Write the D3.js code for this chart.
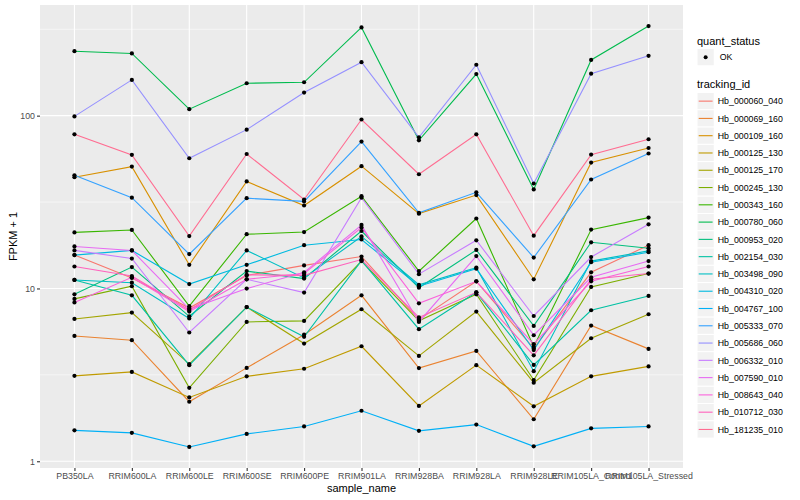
<!DOCTYPE html>
<html>
<head>
<meta charset="utf-8">
<script src="https://cdn.jsdelivr.net/npm/d3@7"></script>
<style>
  body { margin: 0; background: #fff; }
  text { font-family: "Liberation Sans", Arial, sans-serif; }
</style>
</head>
<body>
<div id="chart"></div>
<script>
// samples on the x axis
const samples = ["PB350LA", "RRIM600LA", "RRIM600LE", "RRIM600SE", "RRIM600PE", "RRIM901LA",
  "RRIM928BA", "RRIM928LA", "RRIM928LE", "RRIM105LA_Control", "RRIM105LA_Stressed"];

// tracking ids, in legend order
const trackingIds = ["Hb_000060_040", "Hb_000069_160", "Hb_000109_160", "Hb_000125_130", "Hb_000125_170",
  "Hb_000245_130", "Hb_000343_160", "Hb_000780_060", "Hb_000953_020", "Hb_002154_030",
  "Hb_003498_090", "Hb_004310_020", "Hb_004767_100", "Hb_005333_070", "Hb_005686_060",
  "Hb_006332_010", "Hb_007590_010", "Hb_008643_040", "Hb_010712_030", "Hb_181235_010"];

// FPKM + 1 per sample, one array per tracking id
const fpkm = [
  [15.6, 11.5, 7.7, 11.9, 13.6, 15.3, 6.6, 11.0, 4.5, 12.4, 17.8],     // 000060_040
  [5.31, 5.02, 2.21, 3.47, 5.4, 9.13, 3.46, 4.35, 1.75, 6.1, 4.47],    // 000069_160
  [44, 50.7, 13.7, 41.6, 30.2, 51, 27.1, 34.7, 11.3, 53.5, 65],        // 000109_160
  [3.12, 3.29, 2.34, 3.10, 3.43, 4.63, 2.09, 3.60, 2.08, 3.10, 3.54],  // 000125_130
  [6.66, 7.25, 3.65, 7.8, 4.80, 7.58, 4.07, 7.35, 2.85, 5.15, 7.09],   // 000125_170
  [8.7, 10.3, 2.66, 6.4, 6.49, 14.4, 6.5, 9.25, 2.95, 10.2, 12.2],     // 000245_130
  [21.1, 21.8, 7.9, 20.6, 21.2, 34.2, 12.6, 25.4, 4.6, 21.9, 25.7],    // 000343_160
  [236, 229, 109, 154, 156, 324, 72, 174, 37.4, 210, 330],             // 000780_060
  [9.25, 13.3, 6.9, 12.6, 11.4, 21.5, 10.1, 16.7, 6.07, 18.5, 17.1],   // 000953_020
  [11.2, 9.13, 3.6, 7.8, 5.25, 14.5, 5.81, 9.5, 3.61, 7.48, 9.05],     // 002154_030
  [11.2, 10.8, 6.7, 16.6, 11.5, 20, 10.5, 13.2, 3.32, 14.4, 16.5],     // 003498_090
  [15.6, 16.6, 10.6, 13.7, 17.8, 19.2, 10.3, 13.0, 4.4, 14.2, 16.2],   // 004310_020
  [1.51, 1.46, 1.21, 1.44, 1.59, 1.96, 1.50, 1.63, 1.22, 1.55, 1.59],  // 004767_100
  [45.2, 33.5, 15.8, 33.3, 31.9, 70.8, 27.4, 36, 15.1, 42.7, 60.4],    // 005333_070
  [99, 161, 56.7, 83, 136, 204, 75, 197, 40.5, 175, 222],              // 005686_060
  [16.6, 14.9, 5.56, 11.3, 9.46, 33.5, 12.1, 19.0, 6.93, 15.2, 23.5],  // 006332_010
  [17.5, 16.6, 7.6, 9.98, 12.4, 23.3, 6.4, 15.4, 5.36, 11.6, 14.4],    // 007590_010
  [8.3, 11.6, 7.35, 11.3, 12.2, 22.5, 8.2, 11.0, 4.76, 11.0, 13.4],    // 008643_040
  [13.4, 11.8, 7.5, 12.0, 11.9, 14.7, 6.8, 9.5, 4.1, 11.3, 12.2],      // 010712_030
  [78, 59.3, 20.1, 60, 32.7, 95, 45.8, 78, 20.2, 59.5, 73]             // 181235_010
];

const yTicks = [1, 10, 100];
const yMinor = [Math.pow(10, 0.5), Math.pow(10, 1.5), Math.pow(10, 2.5)];

// ggplot default hue palette for 20 levels
const colors = ["#F8766D", "#EA8331", "#D89000", "#C09B00", "#A3A500", "#7CAE00", "#39B600", "#00BB4E",
  "#00BF7D", "#00C1A3", "#00BFC4", "#00BAE0", "#00B0F6", "#35A2FF", "#9590FF", "#C77CFF",
  "#E76BF3", "#FA62DB", "#FF62BC", "#FF6C91"];

let WIDTH = 800,
    HEIGHT = 500;
const panel = { left: 40, top: 5, right: 683, bottom: 468 };

let svg = d3.select("#chart")
  .append("svg")
  .attr("width", WIDTH)
  .attr("height", HEIGHT);

const series = trackingIds.map((id, i) => ({
  id: id,
  color: colors[i],
  values: samples.map((s, j) => ({ sample: s, value: fpkm[i][j] }))
}));

// x: discrete with 0.6 expansion on each side
let x = d3.scalePoint()
  .domain(samples)
  .range([panel.left, panel.right])
  .padding(0.6);

// y: log10 with 5% expansion of the data range
const allVals = fpkm.flat();
const lmin = Math.log10(d3.min(allVals)), lmax = Math.log10(d3.max(allVals));
const pad = (lmax - lmin) * 0.05;
let y = d3.scaleLog()
  .domain([Math.pow(10, lmin - pad), Math.pow(10, lmax + pad)])
  .range([panel.bottom, panel.top]);

// panel background + grid
svg.append("rect")
  .attr("x", panel.left).attr("y", panel.top)
  .attr("width", panel.right - panel.left).attr("height", panel.bottom - panel.top)
  .attr("fill", "#EBEBEB");

svg.selectAll(".minor")
  .data(yMinor)
  .enter().append("line")
  .attr("x1", panel.left).attr("x2", panel.right)
  .attr("y1", d => y(d)).attr("y2", d => y(d))
  .attr("stroke", "#fff").attr("stroke-width", 0.55);

svg.selectAll(".majorY")
  .data(yTicks)
  .enter().append("line")
  .attr("x1", panel.left).attr("x2", panel.right)
  .attr("y1", d => y(d)).attr("y2", d => y(d))
  .attr("stroke", "#fff").attr("stroke-width", 1.1);

svg.selectAll(".majorX")
  .data(samples)
  .enter().append("line")
  .attr("x1", d => x(d)).attr("x2", d => x(d))
  .attr("y1", panel.top).attr("y2", panel.bottom)
  .attr("stroke", "#fff").attr("stroke-width", 1.1);

// lines
let line = d3.line()
  .x(d => x(d.sample))
  .y(d => y(d.value));

svg.selectAll(".series")
  .data(series)
  .enter().append("path")
  .attr("d", d => line(d.values))
  .attr("fill", "none")
  .attr("stroke", d => d.color)
  .attr("stroke-width", 1.1);

// points
svg.selectAll(".pt")
  .data(series.flatMap(s => s.values))
  .enter().append("circle")
  .attr("cx", d => x(d.sample))
  .attr("cy", d => y(d.value))
  .attr("r", 2.1)
  .attr("fill", "#000");

// axes
let xAxis = d3.axisBottom(x).tickSize(3).tickPadding(2);
let gx = svg.append("g")
  .attr("transform", `translate(0,${panel.bottom})`)
  .call(xAxis);

let yAxis = d3.axisLeft(y).tickValues(yTicks).tickFormat(d3.format("d")).tickSize(3).tickPadding(2);
let gy = svg.append("g")
  .attr("transform", `translate(${panel.left},0)`)
  .call(yAxis);

[gx, gy].forEach(g => {
  g.select(".domain").remove();
  g.selectAll(".tick line").attr("stroke", "#333333").attr("stroke-width", 1.1);
  g.selectAll(".tick text")
    .attr("fill", "#4D4D4D")
    .style("font-size", "8.8px")
    .style("font-family", "'Liberation Sans', Arial, sans-serif");
});

// axis titles
svg.append("text")
  .attr("x", (panel.left + panel.right) / 2)
  .attr("y", 492)
  .attr("text-anchor", "middle")
  .style("font-size", "11px")
  .text("sample_name");

svg.append("text")
  .attr("transform", `translate(17,${(panel.top + panel.bottom) / 2}) rotate(-90)`)
  .attr("text-anchor", "middle")
  .style("font-size", "11px")
  .text("FPKM + 1");

// legends
const lx = 697, key = 17.28;
let legend = svg.append("g");

legend.append("text")
  .attr("x", lx).attr("y", 44.5)
  .style("font-size", "11px")
  .text("quant_status");
legend.append("rect")
  .attr("x", lx).attr("y", 48.5).attr("width", key).attr("height", key)
  .attr("fill", "#F2F2F2").attr("stroke", "#fff");
legend.append("circle")
  .attr("cx", lx + key / 2).attr("cy", 48.5 + key / 2).attr("r", 2).attr("fill", "#000");
legend.append("text")
  .attr("x", lx + key + 5.5).attr("y", 48.5 + key / 2 + 3.2)
  .style("font-size", "8.8px")
  .text("OK");

legend.append("text")
  .attr("x", lx).attr("y", 88)
  .style("font-size", "11px")
  .text("tracking_id");

let items = legend.selectAll(".item")
  .data(series)
  .enter().append("g")
  .attr("transform", (d, i) => `translate(${lx},${92.5 + i * key})`);

items.append("rect")
  .attr("width", key).attr("height", key)
  .attr("fill", "#F2F2F2").attr("stroke", "#fff");
items.append("line")
  .attr("x1", 1.7).attr("x2", key - 1.7)
  .attr("y1", key / 2).attr("y2", key / 2)
  .attr("stroke", d => d.color).attr("stroke-width", 1.1);
items.append("text")
  .attr("x", key + 3.5).attr("y", key / 2 + 3.2)
  .style("font-size", "8.8px")
  .text(d => d.id);
</script>
</body>
</html>
